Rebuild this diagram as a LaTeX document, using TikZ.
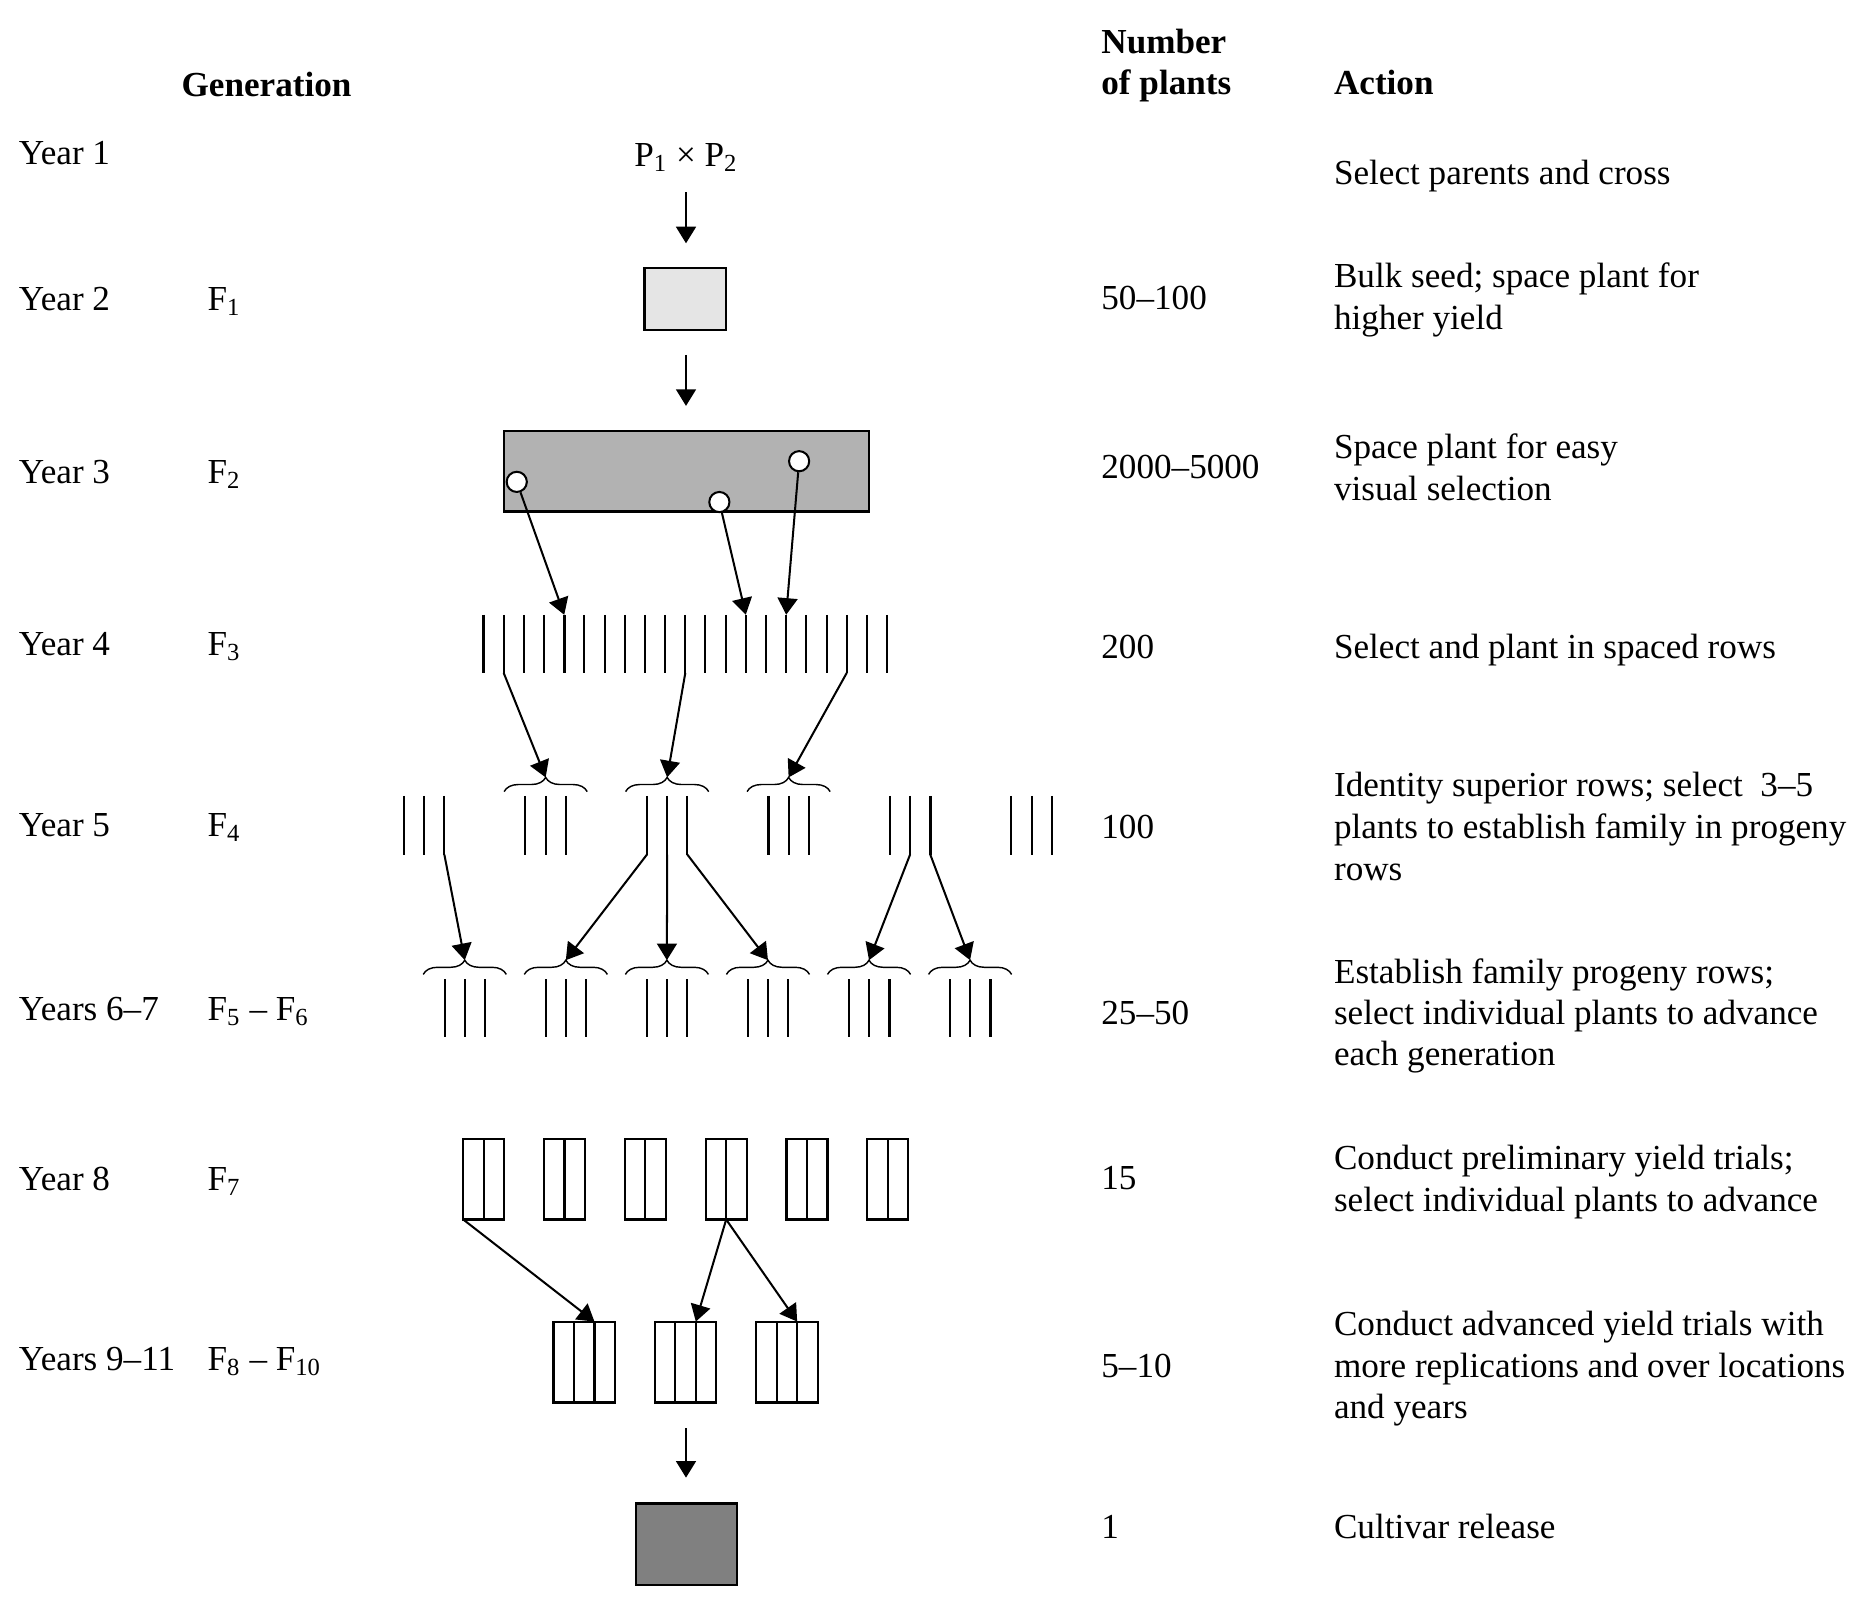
\documentclass[tikz,border=0pt]{standalone}
\usepackage{fontspec}
\setmainfont{Liberation Serif}
\usetikzlibrary{arrows.meta,decorations.pathreplacing,calc}
\begin{document}
\begin{tikzpicture}[x=0.5pt,y=-0.5pt,
  txt/.style={anchor=base west, inner sep=0pt, outer sep=0pt, font=\fontsize{14.8}{18}\selectfont},
  hdr/.style={txt, font=\fontsize{14.8}{18}\selectfont\bfseries},
  arr/.style={line width=0.85pt, -{Triangle[length=7pt,width=8.4pt]}},
  bar/.style={line width=0.85pt},
  tbar/.style={line width=1.4pt},
  brc/.style={line width=0.6pt, decorate, decoration={brace, amplitude=6pt}},
  box/.style={draw, line width=0.9pt, inner sep=0pt, outer sep=0pt},
]
\useasboundingbox (0,0) rectangle (1568,1352);

% headers
\node[hdr] (hgen) at (153,81) {Generation};
\node[hdr] (hnum1) at (928,45) {Number};
\node[hdr] (hnum2) at (928,80) {of plants};
\node[hdr] (hact) at (1124,80) {Action};

% year column
\node[txt] (y1) at (16,138.5) {Year 1};
\node[txt] (y2) at (16,261.5) {Year 2};
\node[txt] (y3) at (16,407.5) {Year 3};
\node[txt] (y4) at (16,552.5) {Year 4};
\node[txt] (y5) at (16,704.5) {Year 5};
\node[txt] (y6) at (16,859.5) {Years 6–7};
\node[txt] (y8) at (16,1003) {Year 8};
\node[txt] (y9) at (16,1154.5) {Years 9–11};

% generation column
\node[txt] (g1) at (175,261.5) {F\textsubscript{1}};
\node[txt] (g2) at (175,407.5) {F\textsubscript{2}};
\node[txt] (g3) at (175,552.5) {F\textsubscript{3}};
\node[txt] (g4) at (175,704.5) {F\textsubscript{4}};
\node[txt] (g5) at (175,859.5) {F\textsubscript{5} – F\textsubscript{6}};
\node[txt] (g7) at (175,1003) {F\textsubscript{7}};
\node[txt] (g8) at (175,1154.5) {F\textsubscript{8} – F\textsubscript{10}};

% number column
\node[txt] (n2) at (928,260.5) {50–100};
\node[txt] (n3) at (928,403.5) {2000–5000};
\node[txt] (n4) at (928,554.5) {200};
\node[txt] (n5) at (928,706.5) {100};
\node[txt] (n6) at (928,863.5) {25–50};
\node[txt] (n8) at (928,1002.5) {15};
\node[txt] (n9) at (928,1160.5) {5–10};
\node[txt] (n10) at (928,1296.5) {1};

% action column
\node[txt] (a1) at (1124,155.5) {Select parents and cross};
\node[txt] (a2a) at (1124,242.5) {Bulk seed; space plant for};
\node[txt] (a2b) at (1124,277.5) {higher yield};
\node[txt] (a3a) at (1124,386.5) {Space plant for easy};
\node[txt] (a3b) at (1124,421.5) {visual selection};
\node[txt] (a4) at (1124,554.5) {Select and plant in spaced rows};
\node[txt] (a5a) at (1124,671.5) {Identity superior rows; select\ \ 3–5};
\node[txt] (a5b) at (1124,706.5) {plants to establish family in progeny};
\node[txt] (a5c) at (1124,741.5) {rows};
\node[txt] (a6a) at (1124,828.5) {Establish family progeny rows;};
\node[txt] (a6b) at (1124,863.5) {select individual plants to advance};
\node[txt] (a6c) at (1124,897.5) {each generation};
\node[txt] (a8a) at (1124,985.5) {Conduct preliminary yield trials;};
\node[txt] (a8b) at (1124,1020.5) {select individual plants to advance};
\node[txt] (a9a) at (1124,1125.5) {Conduct advanced yield trials with};
\node[txt] (a9b) at (1124,1160.5) {more replications and over locations};
\node[txt] (a9c) at (1124,1195.5) {and years};
\node[txt] (a10) at (1124,1296.5) {Cultivar release};

% cross and F1
\node[txt, anchor=base] (cross) at (578,140.5) {P\textsubscript{1} × P\textsubscript{2}};
\coordinate (ar1s) at (578,162);
\coordinate (ar1e) at (578,205);
\draw[arr] (ar1s) -- (ar1e);
\node[box, fill=gray!20, minimum width=34.5pt, minimum height=26pt] (f1box) at (577.5,252) {};
\coordinate (ar2s) at (578,299);
\coordinate (ar2e) at (578,342);
\draw[arr] (ar2s) -- (ar2e);

% F2 box
\node[box, fill=gray!60, minimum width=153.5pt, minimum height=34pt] (f2box) at (578.5,397) {};
\node[circle, draw, fill=white, line width=0.85pt, minimum size=8.5pt, inner sep=0pt] (c1) at (435.4,406) {};
\node[circle, draw, fill=white, line width=0.85pt, minimum size=8.5pt, inner sep=0pt] (c2) at (606.1,423) {};
\node[circle, draw, fill=white, line width=0.85pt, minimum size=8.5pt, inner sep=0pt] (c3) at (673.3,388.6) {};

% year 4 bars
\foreach \i in {1,...,21} {
  \pgfmathsetmacro\xx{407.4+17*(\i-1)}
  \coordinate (t4-\i) at (\xx,518);
  \coordinate (b4-\i) at (\xx,567);
  \draw[bar] (t4-\i) -- (b4-\i);
}
\draw[tbar] (t4-1) -- (b4-1);
\draw[tbar] (t4-5) -- (b4-5);

\draw[arr] (c1) -- (t4-5);
\draw[arr] (c2) -- (t4-14);
\draw[arr] (c3) -- (t4-16);

% year 5 bar groups
\foreach \g in {1,...,6} {
  \pgfmathsetmacro\cc{357.4+102.35*(\g-1)}
  \foreach \k in {1,2,3} {
    \pgfmathsetmacro\xx{\cc+17*(\k-2)}
    \coordinate (t5-\g-\k) at (\xx,670.6);
    \coordinate (b5-\g-\k) at (\xx,720);
    \draw[bar] (t5-\g-\k) -- (b5-\g-\k);
  }
  \coordinate (bl5-\g) at (\cc-35,667);
  \coordinate (brr5-\g) at (\cc+35,667);
  \coordinate (tip5-\g) at (\cc,655);
}
\draw[tbar] (t5-4-1) -- (b5-4-1);
\draw[tbar] (t5-5-3) -- (b5-5-3);
\foreach \g in {2,3,4} { \draw[brc] (bl5-\g) -- (brr5-\g); }

\draw[arr] (b4-2) -- (tip5-2);
\draw[arr] (b4-11) -- (tip5-3);
\draw[arr] (b4-19) -- (tip5-4);

% years 6-7 bar groups
\foreach \g in {1,...,6} {
  \pgfmathsetmacro\cc{391.6+85.15*(\g-1)}
  \foreach \k in {1,2,3} {
    \pgfmathsetmacro\xx{\cc+17*(\k-2)}
    \coordinate (t6-\g-\k) at (\xx,825);
    \coordinate (b6-\g-\k) at (\xx,874);
    \draw[bar] (t6-\g-\k) -- (b6-\g-\k);
  }
  \coordinate (bl6-\g) at (\cc-35,821);
  \coordinate (brr6-\g) at (\cc+35,821);
  \coordinate (tip6-\g) at (\cc,809);
  \draw[brc] (bl6-\g) -- (brr6-\g);
}
\draw[tbar] (t6-5-3) -- (b6-5-3);
\draw[tbar] (t6-6-3) -- (b6-6-3);

\draw[arr] (b5-1-3) -- (tip6-1);
\draw[arr] (b5-3-1) -- (tip6-2);
\draw[arr] (b5-3-2) -- (tip6-3);
\draw[arr] (b5-3-3) -- (tip6-4);
\draw[arr] (b5-5-2) -- (tip6-5);
\draw[arr] (b5-5-3) -- (tip6-6);

% year 8 boxes (two columns)
\foreach \i in {1,...,6} {
  \pgfmathsetmacro\xx{407.55+68.1*(\i-1)}
  \node[box, minimum width=17.25pt, minimum height=34pt] (p\i) at (\xx,993.5) {};
  \draw[line width=0.9pt] (p\i.north) -- (p\i.south);
}

% years 9-11 boxes (three columns)
\foreach \i in {1,2,3} {
  \pgfmathsetmacro\xx{492.25+85.4*(\i-1)}
  \node[box, minimum width=25.85pt, minimum height=34.1pt] (q\i) at (\xx,1147.6) {};
  \coordinate (q\i d1) at ($(q\i.north west)!1/3!(q\i.north east)$);
  \coordinate (q\i d2) at ($(q\i.north west)!2/3!(q\i.north east)$);
  \draw[line width=0.9pt] (q\i d1) -- ($(q\i.south west)!1/3!(q\i.south east)$);
  \draw[line width=0.9pt] (q\i d2) -- ($(q\i.south west)!2/3!(q\i.south east)$);
}

\draw[arr] (p1.south west) -- (q1d2);
\draw[arr] (p4.south) -- (q2d2);
\draw[arr] (p4.south) -- (q3d2);

% release
\coordinate (ar3s) at (578,1203.3);
\coordinate (ar3e) at (578,1245);
\draw[arr] (ar3s) -- (ar3e);
\node[box, fill=gray, minimum width=42.7pt, minimum height=34.25pt] (rel) at (578.2,1301) {};
\end{tikzpicture}
\end{document}
